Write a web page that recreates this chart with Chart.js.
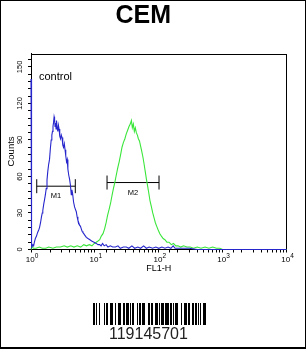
<!DOCTYPE html>
<html>
<head>
<meta charset="utf-8">
<script src="https://cdn.jsdelivr.net/npm/chart.js@4/dist/chart.umd.min.js"></script>
<style>
  html, body { margin: 0; padding: 0; background: #fff; }
  #wrap { position: relative; width: 306px; height: 349px; overflow: hidden; background: #fff; }
  #c { position: absolute; left: 0; top: 0; }
  #frame { position: absolute; left: 0; top: 0; width: 306px; height: 349px; box-sizing: border-box; border: 1px solid #000; border-bottom-width: 2px; pointer-events: none; }
  #barcode { position: absolute; left: 93px; top: 303px; width: 113px; height: 22px; }
  #barcode div { position: absolute; top: 0; height: 22px; background: #000; }
  #code { position: absolute; left: 109px; top: 326px; font: 16px 'Liberation Sans', Arial, sans-serif; line-height: 16px; color: #222; white-space: nowrap; }
</style>
</head>
<body>
<div id="wrap">
  <canvas id="c" width="306" height="349"></canvas>
  <div id="barcode"></div>
  <div id="code">119145701</div>
  <div id="frame"></div>
</div>
<script>
// ---- data ----
const blueX = [1.0,1.01,1.03,1.07,1.10,1.13,1.17,1.22,1.27,1.32,1.36,1.41,1.46,1.50,1.53,1.58,1.63,1.68,1.73,1.78,
  1.83,1.89,1.95,2.01,2.07,2.12,2.17,2.21,2.25,2.30,2.34,2.38,2.42,2.47,2.51,2.57,2.63,2.69,2.75,2.82,
  2.90,2.98,3.06,3.14,3.23,3.32,3.41,3.50,3.60,3.69,3.78,3.90,4.01,4.14,4.27,4.37,4.48,4.64,4.81,4.96,
  5.12,5.27,5.42,5.59,5.76,5.95,6.13,6.31,6.50,6.70,6.90,7.35,7.80,8.35,8.90,9.70,10.5,11.2,11.9,12.5,
  13.2,14.0,15.0,16.0,17.5,19,21,23,25,28,31,34,38,42,47,52,58,64,71,80,
  90,100,112,125,140,155,168,180,200,240,300,400,600,1000,10000];
const blueY = [140,67,2,4,3,6,9,11,14,16,18,22,27,30,32,37,41,45,50,57,
  64,70,74,83,90,94,97,101,104,109,107,101,104,99,106,100,97,102,99,93,
  91,94,92,86,84,87,82,77,72,74,66,61,58,53,45,49,46,39,35,33,
  31,27,24,22,20,19,17,15,14,13,12,10,9,8,7,6,5,4,4,3,
  5,3,4,2,3,2,2,3,1,2,2,1,3,1,2,1,3,1,2,1,
  2,1,2,1,2,1,3,1,1,1,1,0,0,0,0];

const greenX = [1.0,1.04,1.08,1.2,1.35,1.5,1.7,1.9,2.2,2.5,2.9,3.3,3.7,4.2,4.7,5.3,6.0,6.7,7.4,8.2,
  9.0,9.8,10.5,11.2,11.9,12.6,13.4,14.2,15.0,15.8,16.7,17.6,18.5,19.5,20.5,21.6,22.8,24.0,25.3,26.6,
  28.0,29.5,31.0,32.6,34.2,35.8,37.3,38.6,40.0,41.5,43.0,44.6,46.3,48.0,50.0,52.0,54.0,56.5,59.0,61.5,
  64.0,67.0,70.0,73.0,76.8,80.5,84.5,88.5,93.0,98.0,104,110,117,125,134,145,157,170,185,200,
  220,245,275,310,350,400,460,530,610,700,800,900,1000,10000];
const greenY = [0,3,1,1,2,1,1,2,1,2,2,3,2,3,2,3,2,4,3,4,
  3,5,6,7,8,11,13,17,22,28,33,38,44,50,55,61,67,72,78,84,
  88,91,95,98,101,103,106,100,103,97,100,96,94,91,89,85,81,76,70,64,
  58,52,46,40,35,30,26,22,19,16,13,11,9,8,6,6,4,5,3,3,
  2,3,2,2,1,2,1,2,1,2,1,1,0,0];

const markerNames = ['M1', 'M2'];
const markerStart = [1.23, 15.5];
const markerEnd = [4.94, 101];
const markerLevel = [52, 55];

const xTickValues = [1, 10, 100, 1000, 10000];
const xTickBase = ['10', '10', '10', '10', '10'];
const xTickExp = ['0', '1', '2', '3', '4'];
const yTickLabels = [0, 30, 60, 90, 120, 150];

const BLUE = '#2626cc';
const GREEN = '#3ae63a';

// ---- barcode (decoration) ----
const barcodeBits = '11010010000' + '10110011100' + '10011100110' + '11101011000' + '10110111000' +
  '11011001110' + '10111011110' + '11010111000' + '10011101100' + '11011010100' + '111';
(function () {
  const bc = document.getElementById('barcode');
  let i = 0;
  while (i < barcodeBits.length) {
    if (barcodeBits[i] === '1') {
      let j = i;
      while (j < barcodeBits.length && barcodeBits[j] === '1') j++;
      const d = document.createElement('div');
      d.style.left = i + 'px';
      d.style.width = (j - i) + 'px';
      bc.appendChild(d);
      i = j;
    } else i++;
  }
})();

Chart.defaults.font.family = "'Liberation Sans', Arial, sans-serif";
Chart.defaults.color = '#000';

const extras = {
  id: 'extras',
  beforeDatasetsDraw(chart) {
    const { ctx, chartArea: a } = chart;
    ctx.save();
    ctx.strokeStyle = '#000';
    ctx.lineWidth = 1;
    ctx.strokeRect(Math.round(a.left) + 0.5, Math.round(a.top) + 0.5,
      Math.round(a.right - a.left) - 1, Math.round(a.bottom - a.top) - 1);
    ctx.restore();
  },
  afterDraw(chart) {
    const { ctx, chartArea: a } = chart;
    const xs = chart.scales.x, ys = chart.scales.y;
    ctx.save();
    ctx.fillStyle = '#000';
    // y tick labels, rotated
    ctx.font = "7.5px 'Liberation Sans', Arial, sans-serif";
    yTickLabels.forEach(v => {
      const y = ys.getPixelForValue(v);
      ctx.save();
      ctx.translate(20, y);
      ctx.rotate(-Math.PI / 2);
      ctx.textAlign = 'center';
      ctx.textBaseline = 'middle';
      ctx.fillText(String(v), 0, 0);
      ctx.restore();
    });
    // x tick labels with superscript exponent
    xTickValues.forEach((v, i) => {
      const x = xs.getPixelForValue(v);
      ctx.font = "8px 'Liberation Sans', Arial, sans-serif";
      const wb = ctx.measureText(xTickBase[i]).width;
      ctx.font = "6.5px 'Liberation Sans', Arial, sans-serif";
      const we = ctx.measureText(xTickExp[i]).width;
      const x0 = x - (wb + we) / 2 + 1;
      ctx.textAlign = 'left';
      ctx.textBaseline = 'alphabetic';
      ctx.font = "8px 'Liberation Sans', Arial, sans-serif";
      ctx.fillText(xTickBase[i], x0, a.bottom + 12);
      ctx.font = "6.5px 'Liberation Sans', Arial, sans-serif";
      ctx.fillText(xTickExp[i], x0 + wb, a.bottom + 8);
    });
    // marker labels
    ctx.font = "7.5px 'Liberation Sans', Arial, sans-serif";
    ctx.textAlign = 'center';
    ctx.textBaseline = 'middle';
    markerNames.forEach((n, i) => {
      const x = xs.getPixelForValue(Math.sqrt(markerStart[i] * markerEnd[i]));
      const y = ys.getPixelForValue(markerLevel[i]) + 10;
      ctx.fillText(n, x, y);
    });
    // control label
    ctx.font = "11px 'Liberation Sans', Arial, sans-serif";
    ctx.textAlign = 'left';
    ctx.textBaseline = 'alphabetic';
    ctx.fillText('control', a.left + 8, a.top + 26);
    ctx.restore();
  }
};

const datasets = [
  { label: 'control', data: blueX.map((x, i) => ({ x, y: blueY[i] })), borderColor: BLUE,
    borderWidth: 1.1, pointRadius: 0, tension: 0, fill: false, clip: 4 },
  { label: 'CEM', data: greenX.map((x, i) => ({ x, y: greenY[i] })), borderColor: GREEN,
    borderWidth: 1.1, pointRadius: 0, tension: 0, fill: false, clip: 4 }
];
markerNames.forEach((n, i) => {
  datasets.push({
    label: n,
    data: [{ x: markerStart[i], y: markerLevel[i] }, { x: markerEnd[i], y: markerLevel[i] }],
    borderColor: '#000', borderWidth: 1, pointStyle: 'line', rotation: 90, pointRadius: 7,
    pointBorderColor: '#000', pointBorderWidth: 1, pointBackgroundColor: '#000', tension: 0, clip: false
  });
});

new Chart(document.getElementById('c'), {
  type: 'line',
  data: { datasets },
  options: {
    responsive: false,
    animation: false,
    devicePixelRatio: 1,
    layout: { padding: { left: 0, right: 19.5, top: 0, bottom: 0 } },
    plugins: {
      legend: { display: false },
      tooltip: { enabled: false },
      title: {
        display: true, text: 'CEM', color: '#000',
        font: { size: 25, weight: 'bold' },
        padding: { top: 1, bottom: 22.5 }
      }
    },
    scales: {
      x: {
        type: 'logarithmic', min: 1, max: 10000, position: 'bottom',
        afterFit(s) { s.height = 99.5; },
        grid: { drawOnChartArea: false, drawTicks: true, tickLength: 3, color: '#000' },
        border: { display: true, color: '#000' },
        ticks: { autoSkip: false, maxRotation: 0, minRotation: 0, padding: 2, font: { size: 8 }, callback: () => '' },
        title: { display: true, text: 'FL1-H', color: '#000', font: { size: 9 }, padding: { top: 0, bottom: 75 } }
      },
      y: {
        type: 'linear', min: 0, max: 161,
        afterFit(s) { s.width = 31; },
        grid: { drawOnChartArea: false, drawTicks: true, tickLength: 3, color: '#000' },
        border: { display: true, color: '#000' },
        ticks: { stepSize: 6, includeBounds: false, autoSkip: false, font: { size: 8 }, callback: () => '' },
        title: { display: true, text: 'Counts', color: '#000', font: { size: 9.5 }, padding: { top: 6, bottom: 0 } }
      }
    }
  },
  plugins: [extras]
});
</script>
</body>
</html>
